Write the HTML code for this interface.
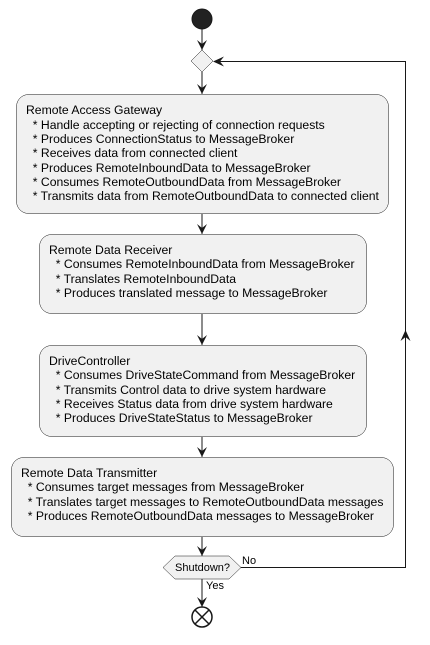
<!DOCTYPE html>
<html><head><style>
body{margin:0;background:#fff}
svg text{font-family:"Liberation Sans",sans-serif;font-size:12.2px;fill:#000}
</style></head><body>
<svg width="430" height="640" viewBox="0 0 430 640" xmlns="http://www.w3.org/2000/svg">
<defs><marker id="a" viewBox="0 0 10 10" refX="10" refY="5" markerWidth="10" markerHeight="10" markerUnits="userSpaceOnUse" orient="auto"><path d="M0,0 L10,5 L0,10 L4,5 Z" fill="#181818"/></marker></defs>
<g stroke="#181818" stroke-width="1" fill="none">
<circle cx="202" cy="19" r="10" fill="#222"/>
<line x1="202" y1="29" x2="202" y2="50" marker-end="url(#a)"/>
<polygon points="202,50 213,61 202,72 191,61" fill="#f1f1f1" stroke-width="0.5"/>
<line x1="202" y1="72" x2="202" y2="94" marker-end="url(#a)"/>
<rect x="16.5" y="94.5" width="372" height="119" rx="12" fill="#f1f1f1" stroke-width="0.5"/>
<line x1="202" y1="214" x2="202" y2="234" marker-end="url(#a)"/>
<rect x="39.5" y="234.5" width="327" height="79" rx="12" fill="#f1f1f1" stroke-width="0.5"/>
<line x1="202" y1="314" x2="202" y2="345" marker-end="url(#a)"/>
<rect x="39.5" y="345.5" width="327" height="91" rx="12" fill="#f1f1f1" stroke-width="0.5"/>
<line x1="202" y1="437" x2="202" y2="457" marker-end="url(#a)"/>
<rect x="11.5" y="457.5" width="382" height="79" rx="12" fill="#f1f1f1" stroke-width="0.5"/>
<line x1="202" y1="537" x2="202" y2="556" marker-end="url(#a)"/>
<polygon points="175,556 229,556 241,567.5 229,579 175,579 163,567.5" fill="#f1f1f1" stroke-width="0.5"/>
<polyline points="241,567.5 405.5,567.5 405.5,61.5 214,61.5"/>
<path d="M210,61.5 L221,56.5 L217,61.5 L221,66.5 Z" fill="#181818" stroke="none" transform="translate(3,0)"/>
<path d="M405.5,330 L400.5,341 L405.5,337 L410.5,341 Z" fill="#181818" stroke="none"/>
<line x1="202" y1="579" x2="202" y2="607" marker-end="url(#a)"/>
<circle cx="202" cy="617" r="10" fill="#fff" stroke-width="1.5"/>
<line x1="195" y1="610" x2="209" y2="624" stroke-width="1.5"/>
<line x1="209" y1="610" x2="195" y2="624" stroke-width="1.5"/>
</g>
<text x="26" y="114">Remote Access Gateway</text>
<text x="26" y="129" xml:space="preserve">  * Handle accepting or rejecting of connection requests</text>
<text x="26" y="143" xml:space="preserve">  * Produces ConnectionStatus to MessageBroker</text>
<text x="26" y="157" xml:space="preserve">  * Receives data from connected client</text>
<text x="26" y="172" xml:space="preserve">  * Produces RemoteInboundData to MessageBroker</text>
<text x="26" y="186" xml:space="preserve">  * Consumes RemoteOutboundData from MessageBroker</text>
<text x="26" y="200" xml:space="preserve">  * Transmits data from RemoteOutboundData to connected client</text>
<text x="49" y="254">Remote Data Receiver</text>
<text x="49" y="268" xml:space="preserve">  * Consumes RemoteInboundData from MessageBroker</text>
<text x="49" y="283" xml:space="preserve">  * Translates RemoteInboundData</text>
<text x="49" y="297" xml:space="preserve">  * Produces translated message to MessageBroker</text>
<text x="49" y="365">DriveController</text>
<text x="49" y="379" xml:space="preserve">  * Consumes DriveStateCommand from MessageBroker</text>
<text x="49" y="394" xml:space="preserve">  * Transmits Control data to drive system hardware</text>
<text x="49" y="408" xml:space="preserve">  * Receives Status data from drive system hardware</text>
<text x="49" y="422" xml:space="preserve">  * Produces DriveStateStatus to MessageBroker</text>
<text x="21" y="477">Remote Data Transmitter</text>
<text x="21" y="491" xml:space="preserve">  * Consumes target messages from MessageBroker</text>
<text x="21" y="506" xml:space="preserve">  * Translates target messages to RemoteOutboundData messages</text>
<text x="21" y="520" xml:space="preserve">  * Produces RemoteOutboundData messages to MessageBroker</text>
<text x="175" y="571" style="font-size:11px">Shutdown?</text>
<text x="242" y="564" style="font-size:11px">No</text>
<text x="206" y="589" style="font-size:11px">Yes</text>
</svg>
</body></html>
